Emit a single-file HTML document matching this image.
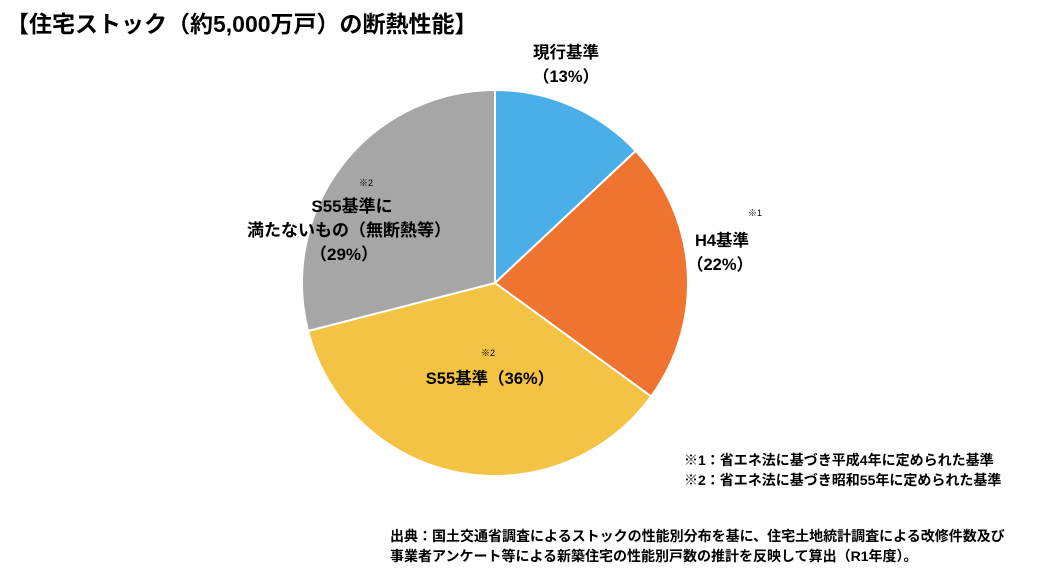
<!DOCTYPE html>
<html><head><meta charset="utf-8"><style>
body{margin:0;background:#fff;}
svg text{font-family:"Liberation Sans","Noto Sans CJK JP",sans-serif;fill:#000;}
</style></head><body>
<svg width="1040" height="579" viewBox="0 0 1040 579">
<text x="6" y="32" font-size="23" font-weight="bold">【住宅ストック（約5,000万戸）の断熱性能】</text>
<g id="slices"></g>
<g font-weight="bold" text-anchor="middle" font-size="16.5">
<text x="566" y="58">現行基準</text>
<text x="566" y="82">（13%）</text>
<text x="722" y="246">H4基準</text>
<text x="720" y="270">（22%）</text>
<text x="755" y="216" font-size="9" font-weight="normal">※1</text>
<text x="366" y="186" font-size="9" font-weight="normal">※2</text>
<text x="352" y="212" font-size="17">S55基準に</text>
<text x="349" y="236" font-size="17">満たないもの（無断熱等）</text>
<text x="344" y="260" font-size="17">（29%）</text>
<text x="488" y="356" font-size="9" font-weight="normal">※2</text>
<text x="490" y="384">S55基準（36%）</text>
</g>
<g font-size="14" font-weight="bold">
<text x="684" y="465">※1：省エネ法に基づき平成4年に定められた基準</text>
<text x="684" y="485">※2：省エネ法に基づき昭和55年に定められた基準</text>
<text x="390" y="541">出典：国土交通省調査によるストックの性能別分布を基に、住宅土地統計調査による改修件数及び</text>
<text x="390" y="561">事業者アンケート等による新築住宅の性能別戸数の推計を反映して算出（R1年度）。</text>
</g>
</svg>
<script>
const categories=["現行基準","H4基準","S55基準","S55基準に満たないもの"];
const values=[13,22,36,29];
const colors=["#4aaee8","#ee7430","#f4c343","#a6a6a6"];
const cx=495,cy=283,r=193;
const g=document.getElementById('slices');
const total=values.reduce((a,b)=>a+b,0);
let a0=-Math.PI/2;
values.forEach((v,i)=>{
  const a1=a0+v/total*2*Math.PI;
  const x0=cx+r*Math.cos(a0),y0=cy+r*Math.sin(a0),x1=cx+r*Math.cos(a1),y1=cy+r*Math.sin(a1);
  const large=(a1-a0)>Math.PI?1:0;
  const p=document.createElementNS('http://www.w3.org/2000/svg','path');
  p.setAttribute('d',`M${cx},${cy}L${x0},${y0}A${r},${r} 0 ${large} 1 ${x1},${y1}Z`);
  p.setAttribute('fill',colors[i]);
  p.setAttribute('stroke','#fff');
  p.setAttribute('stroke-width','2');
  
  
  g.appendChild(p);
  a0=a1;
});
</script>
</body></html>
